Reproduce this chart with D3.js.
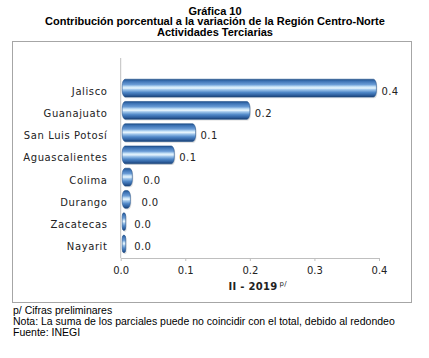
<!DOCTYPE html>
<html><head><meta charset="utf-8">
<script src="https://cdn.jsdelivr.net/npm/d3@7"></script>
<style>
html,body{margin:0;padding:0;background:#fff;}
svg{display:block;}
</style></head>
<body>
<script>
const categories = ["Jalisco","Guanajuato","San Luis Potosí","Aguascalientes","Colima","Durango","Zacatecas","Nayarit"];
const values = [0.396, 0.2, 0.116, 0.083, 0.018, 0.015, 0.004, 0.004];
const valueLabels = ["0.4","0.2","0.1","0.1","0.0","0.0","0.0","0.0"];
const xTicks = [0.0, 0.1, 0.2, 0.3, 0.4];
const titleLines = ["Gráfica 10","Contribución porcentual a la variación de la Región Centro-Norte","Actividades Terciarias"];
const axisTitle = "II - 2019";
const axisTitleSup = "p/";
const notes = ["p/ Cifras preliminares","Nota: La suma de los parciales puede no coincidir con el total, debido al redondeo","Fuente: INEGI"];

const W = 429, H = 358;
const svg = d3.select("body").append("svg").attr("width", W).attr("height", H);

const defs = svg.append("defs");
const grad = defs.append("linearGradient").attr("id","barGrad").attr("x1",0).attr("y1",0).attr("x2",0).attr("y2",1);
[[0,"#1f4d86"],[0.1,"#3a70b2"],[0.3,"#6a9cd6"],[0.42,"#c6e2f7"],[0.5,"#e8f5fd"],[0.58,"#a2c8ec"],[0.74,"#5088c8"],[0.9,"#2d5e9d"],[1,"#1a3d6c"]]
  .forEach(([o,c]) => grad.append("stop").attr("offset",o).attr("stop-color",c));

// Titles
svg.append("g").selectAll("text").data(titleLines).join("text")
  .attr("x", 215).attr("y", (d,i) => 14.5 + i*10.5)
  .attr("text-anchor","middle")
  .style("font-family","'Liberation Sans', Arial, sans-serif")
  .style("font-weight","bold").style("font-size","11px").attr("fill","#000")
  .text(d => d);

// Chart box
svg.append("rect").attr("x",12.5).attr("y",41.5).attr("width",399).attr("height",261)
  .attr("fill","#fff").attr("stroke","#a6a6a6").attr("stroke-width",1);

const x = d3.scaleLinear().domain([0,0.4]).range([120.7,379]);
const y = d3.scaleBand().domain(categories).range([77,255]).paddingInner(0.2).paddingOuter(0.1);

// Vertical axis line
svg.append("line").attr("x1",x(0)).attr("x2",x(0)).attr("y1",58).attr("y2",258)
  .attr("stroke","#bfbfbf").attr("stroke-width",1);

// X axis
const xAxis = d3.axisBottom(x).tickValues(xTicks).tickFormat(d3.format(".1f")).tickSize(3).tickSizeOuter(0);
const gx = svg.append("g").attr("transform","translate(0,258)").call(xAxis);
gx.select(".domain").attr("stroke","#bfbfbf");
gx.selectAll(".tick line").attr("stroke","#bfbfbf");
gx.selectAll(".tick text").attr("y",9).attr("dy","0.71em")
  .style("font-family","'DejaVu Sans', Verdana, sans-serif").style("font-size","10px").attr("fill","#222");

// Bars
const x0 = x(0) + 1.5;
const bars = svg.append("g");
categories.forEach((c,i) => {
  const v = values[i];
  const w = Math.max(x(v) - x0, 3.5);
  const h = y.bandwidth();
  const rx = Math.min(3, w/2);
  bars.append("rect")
    .attr("x", x0 + 1).attr("y", y(c) + 1.2).attr("width", w).attr("height", h)
    .attr("rx", rx).attr("ry", Math.min(h/2, rx*2.2)).attr("fill","#c8c8c8").attr("opacity",0.6);
  bars.append("rect")
    .attr("x", x0).attr("y", y(c)).attr("width", w).attr("height", h)
    .attr("rx", rx).attr("ry", Math.min(h/2, rx*2.2))
    .attr("fill","url(#barGrad)").attr("stroke","#24548f").attr("stroke-width",0.6);
});

// Value labels
svg.append("g").selectAll("text").data(categories).join("text")
  .attr("x", (d,i) => x(values[i]) + (values[i] < 0.05 ? 11 : 5))
  .attr("y", d => y(d) + y.bandwidth()/2 + 3)
  .attr("dy","0.35em")
  .style("font-family","'DejaVu Sans', Verdana, sans-serif").style("font-size","10px")
  .style("letter-spacing","0.4px").attr("fill","#222")
  .text((d,i) => valueLabels[i]);

// Category labels
svg.append("g").selectAll("text").data(categories).join("text")
  .attr("x", 107.5).attr("y", d => y(d) + y.bandwidth()/2 + 3)
  .attr("dy","0.35em").attr("text-anchor","end")
  .style("font-family","'DejaVu Sans', Verdana, sans-serif").style("font-size","10px")
  .style("letter-spacing","0.6px").attr("fill","#222")
  .text(d => d);

// Axis title
const at = svg.append("text").attr("x", 228.5).attr("y", 290)
  .style("font-family","'DejaVu Sans', Verdana, sans-serif").style("font-size","10px")
  .style("font-weight","bold").style("letter-spacing","0.3px").attr("fill","#222");
at.append("tspan").text(axisTitle);
at.append("tspan").attr("dx",2).attr("dy",-4).style("font-size","7px").style("font-weight","normal").text(axisTitleSup);

// Notes
svg.append("g").selectAll("text").data(notes).join("text")
  .attr("x", 13).attr("y", (d,i) => 314 + i*11.2)
  .style("font-family","'Liberation Sans', Arial, sans-serif").style("font-size","10.5px").attr("fill","#000")
  .text(d => d);
</script>
</body></html>
